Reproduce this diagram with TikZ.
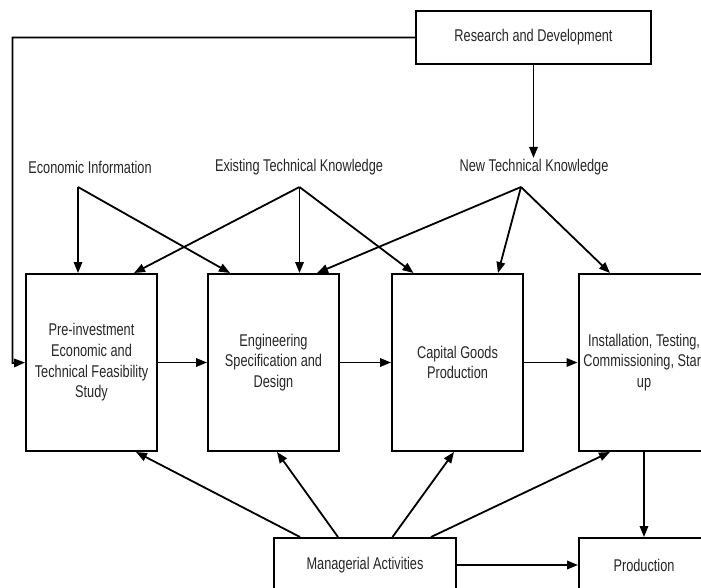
\documentclass[tikz,border=0pt]{standalone}
\usepackage{fontspec}
\setmainfont{Liberation Sans}[FakeStretch=0.75]
\usetikzlibrary{arrows.meta}
\tikzset{
  caja/.style={draw, line width=2pt, minimum width=131pt, minimum height=177pt, align=center, inner sep=0pt},
  cajita/.style={draw, line width=2pt, align=center, inner sep=0pt},
  etiqueta/.style={inner sep=1pt},
  flecha/.style={line width=1.8pt, -{Triangle[length=11pt,width=8.5pt]}},
}
\begin{document}
\begin{tikzpicture}[x=1pt, y=-1pt, font=\fontsize{17}{20.7}\selectfont, text=black!85]
    \clip (0,0) rectangle (701,587);
    %FUENTES:
     %investigacion ------------------
     \node[cajita, minimum width=235pt, minimum height=53pt] (rd) at (533.5,37.5) {Research and Development};
     \node[etiqueta] (econ) at (90,167) {Economic Information};
     \node[etiqueta] (exist) at (299,167) {Existing Technical Knowledge};
     \node[etiqueta] (newk) at (534,167) {New Technical Knowledge};
     \coordinate (econ-s) at (78,187);
     \coordinate (exist-s) at (299.5,187);
     \coordinate (newk-s) at (521,187);
     \coordinate (vuelta) at (12.5,363);
     %----------------------------------
    %ETAPAS:
     \node[caja] (pre) at (91.5,362.5) {Pre-investment\\Economic and\\Technical Feasibility\\Study};
     \node[caja] (eng) at (273.5,362.5) {Engineering\\Specification and\\Design};
     \node[caja] (cap) at (457.5,362.5) {Capital Goods\\Production};
     \node[caja] (inst) at (644,362.5) {Installation, Testing,\\Commissioning, Start\\up};
     %abajo ----------------------------
     \node[cajita, minimum width=182pt, minimum height=54pt] (man) at (365,565) {Managerial Activities};
     \node[cajita, minimum width=130pt, minimum height=54pt] (prod) at (644,565) {Production};
     %----------------------------------
    %FLECHAS:
     \draw[flecha] (rd.south) -- (rd.south |- newk.north);
     \draw[flecha] (rd.west) -| (vuelta) -- (pre.west);
     %informacion economica
     \draw[flecha] (econ-s) -- (econ-s |- pre.north);
     \draw[flecha] (econ-s) -- ([xshift=-43.5]eng.north);
     %conocimiento existente
     \draw[flecha] (exist-s) -- ([xshift=42.5]pre.north);
     \draw[flecha] (exist-s) -- (exist-s |- eng.north);
     \draw[flecha] (exist-s) -- ([xshift=-44]cap.north);
     %conocimiento nuevo
     \draw[flecha] (newk-s) -- ([xshift=43.5]eng.north);
     \draw[flecha] (newk-s) -- ([xshift=40.5]cap.north);
     \draw[flecha] (newk-s) -- ([xshift=-34]inst.north);
     %cadena
     \draw[flecha] (pre) -- (eng);
     \draw[flecha] (eng) -- (cap);
     \draw[flecha] (cap) -- (inst);
     \draw[flecha] (inst.south) -- (prod.north);
     \draw[flecha] (man) -- (prod);
     %gestion
     \draw[flecha] ([xshift=-65]man.north) -- ([xshift=44.5]pre.south);
     \draw[flecha] ([xshift=-27]man.north) -- ([xshift=3.5]eng.south);
     \draw[flecha] ([xshift=27.5]man.north) -- ([xshift=-3.5]cap.south);
     \draw[flecha] ([xshift=66]man.north) -- ([xshift=-34]inst.south);
     %----------------------------------
\end{tikzpicture}
\end{document}
